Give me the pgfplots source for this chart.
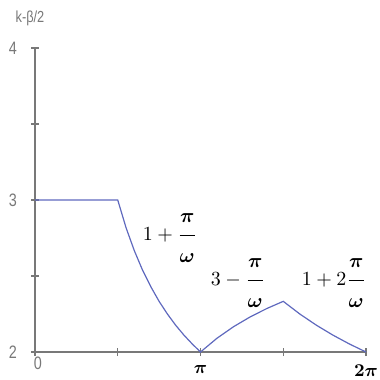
\documentclass[border=0pt]{standalone}
\usepackage{pgfplots}
\pgfplotsset{compat=1.18}
\usepackage{amsmath}
\usepackage{bm}
\usepackage{fontspec}
\newfontfamily\lsans{Liberation Sans}[FakeStretch=0.8]
\definecolor{axgray}{RGB}{120,120,120}
\definecolor{curve}{RGB}{95,105,190}
\newcommand{\fr}[2]{\genfrac{}{}{0.4pt}{0}{\bm{#1}\rule[-5pt]{0pt}{0pt}}{\rule{0pt}{12pt}\bm{#2}}}
\begin{document}
\begin{tikzpicture}
\path[use as bounding box] (-17.5pt,-14pt) rectangle (172.5pt,176pt);
\begin{axis}[
  at={(0,0)}, anchor=south west,
  scale only axis, width=165.5pt, height=152pt,
  xmin=0, xmax=2, ymin=2, ymax=4,
  axis lines=left, axis line style={-, draw=axgray, line width=0.6pt},
  tick style={draw=axgray, line width=0.6pt},
  tick align=center, major tick length=4pt,
  xtick={0,0.5,1,1.5,2},
  xticklabels={,,$\bm{\pi}$,,$\bm{2\pi}$},
  ytick={2,2.5,3,3.5,4},
  yticklabels={2,,3,,4},
  yticklabel style={font=\lsans\small, text=axgray, xshift=-3.5pt},
  xticklabel style={font=\small, yshift=-1pt},
  clip=false,
]
\addplot[curve, line width=0.6pt] coordinates {
(0,3) (0.5,3)
(0.55,2.818) (0.6,2.667) (0.65,2.538) (0.7,2.429) (0.75,2.333) (0.8,2.25) (0.85,2.176) (0.9,2.111) (0.95,2.053) (1.0,2.0)
(1.1,2.0909) (1.2,2.1667) (1.3,2.2308) (1.4,2.2857) (1.5,2.3333)
(1.6,2.25) (1.7,2.1765) (1.8,2.1111) (1.9,2.0526) (2.0,2.0)
};
\node[text=axgray, font=\lsans\footnotesize] at (axis cs:0,4) [yshift=15pt, xshift=-2.5pt] {k-β/2};
\node[text=axgray, font=\lsans\small] at (axis cs:0,2) [xshift=1.5pt, yshift=-5.5pt] {0};
\node[text=axgray, font=\lsans\small, anchor=west] at (axis cs:2,2) [xshift=4pt] {$\omega$};
\node at (axis cs:0.816,2.75) {$1+\fr{\pi}{\omega}$};
\node at (axis cs:1.227,2.454) {$3-\fr{\pi}{\omega}$};
\node at (axis cs:1.807,2.454) {$1+2\fr{\pi}{\omega}$};
\end{axis}
\end{tikzpicture}
\end{document}
